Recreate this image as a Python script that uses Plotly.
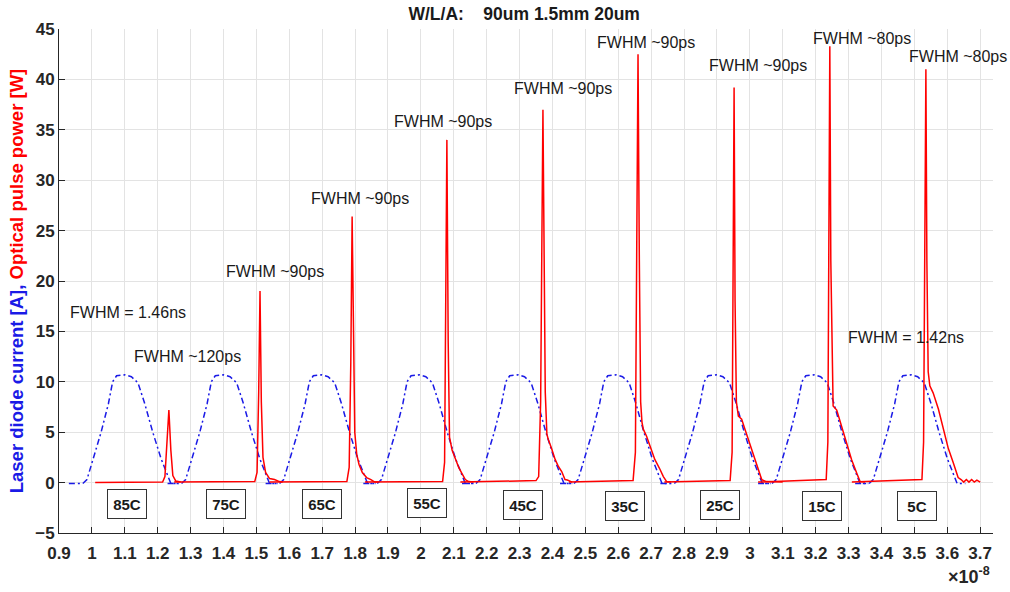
import plotly.graph_objects as go

# ---------------- data (x in units of 1e-8 s) ----------------
temps = ["85C", "75C", "65C", "55C", "45C", "35C", "25C", "15C", "5C"]

# laser diode current pulse: centres of each pulse and the common pulse profile
current_centres = [1.10, 1.40, 1.698, 1.995, 2.295, 2.593, 2.898, 3.195, 3.49]
current_offset = [-0.17, -0.128, -0.115, -0.097, -0.072, -0.05, -0.037, -0.025, 0.0,
                  0.02, 0.04, 0.06, 0.085, 0.11, 0.13, 0.14, 0.165]
current_value = [-0.1, -0.1, 0.3, 2.2, 5.0, 7.8, 10.0, 10.6, 10.7,
                 10.5, 9.9, 7.9, 5.0, 2.4, 0.6, -0.1, -0.1]

# optical pulse power, one trace per temperature
opt_85_x = [1.01, 1.215, 1.222, 1.228, 1.234, 1.240, 1.246, 1.255, 1.27]
opt_85_y = [0.0, 0.05, 0.6, 3.5, 7.2, 3.2, 0.7, 0.15, 0.05]
opt_75_x = [1.25, 1.495, 1.502, 1.507, 1.511, 1.515, 1.520, 1.528, 1.540, 1.555, 1.57, 1.58]
opt_75_y = [0.05, 0.1, 1.0, 9.0, 19.0, 8.0, 2.5, 1.0, 0.4, 0.3, 0.1, 0.05]
opt_65_x = [1.54, 1.775, 1.782, 1.787, 1.791, 1.795, 1.799, 1.805, 1.812, 1.822, 1.835, 1.848, 1.86, 1.87]
opt_65_y = [0.05, 0.1, 1.5, 12.0, 26.4, 12.0, 5.0, 2.8, 1.8, 1.0, 0.5, 0.3, 0.05, 0.05]
opt_55_x = [1.83, 2.066, 2.072, 2.076, 2.079, 2.083, 2.087, 2.095, 2.105, 2.115, 2.125, 2.135, 2.145, 2.16]
opt_55_y = [0.05, 0.1, 2.0, 16.0, 34.0, 14.0, 4.5, 3.2, 2.4, 1.5, 0.9, 0.3, 0.1, 0.05]
opt_45_x = [2.12, 2.35, 2.358, 2.364, 2.368, 2.371, 2.374, 2.378, 2.383, 2.387, 2.397, 2.408,
            2.418, 2.428, 2.438, 2.445, 2.46]
opt_45_y = [0.05, 0.2, 0.6, 8.0, 25.0, 37.0, 25.0, 9.0, 4.8, 4.3, 3.4, 2.3, 1.6, 1.1, 0.3, 0.25, 0.05]
opt_35_x = [2.45, 2.645, 2.652, 2.656, 2.66, 2.664, 2.668, 2.672, 2.676, 2.686, 2.696, 2.711,
            2.727, 2.737, 2.747, 2.76]
opt_35_y = [0.05, 0.2, 3.0, 20.0, 42.5, 22.0, 8.0, 6.0, 5.3, 4.6, 3.6, 2.3, 1.3, 0.6, 0.1, 0.05]
opt_25_x = [2.74, 2.940, 2.946, 2.949, 2.952, 2.955, 2.959, 2.965, 2.975, 2.985, 3.0, 3.015,
            3.026, 3.036, 3.05, 3.1]
opt_25_y = [0.05, 0.2, 3.0, 18.0, 39.2, 18.0, 8.0, 6.6, 6.3, 5.3, 3.8, 2.3, 1.3, 0.3, 0.1, 0.05]
opt_15_x = [3.025, 3.232, 3.237, 3.240, 3.243, 3.246, 3.250, 3.253, 3.264, 3.279, 3.294, 3.309,
            3.324, 3.335, 3.35]
opt_15_y = [0.05, 0.3, 4.0, 20.0, 43.3, 22.0, 10.0, 7.6, 7.2, 5.6, 3.9, 2.3, 1.0, 0.1, 0.05]
opt_5_x = [3.31, 3.523, 3.528, 3.532, 3.535, 3.538, 3.542, 3.547, 3.557, 3.573, 3.588, 3.603,
           3.618, 3.633, 3.642, 3.650, 3.658, 3.666, 3.674, 3.682, 3.69, 3.70]
opt_5_y = [0.05, 0.3, 4.0, 20.0, 41.0, 22.0, 11.0, 9.6, 8.9, 7.3, 5.3, 3.4, 2.0, 0.5, 0.3, 0.05,
           0.3, 0.05, 0.3, 0.05, 0.25, 0.05]

optical_x = [opt_85_x, opt_75_x, opt_65_x, opt_55_x, opt_45_x, opt_35_x, opt_25_x, opt_15_x, opt_5_x]
optical_y = [opt_85_y, opt_75_y, opt_65_y, opt_55_y, opt_45_y, opt_35_y, opt_25_y, opt_15_y, opt_5_y]

# temperature box labels
temp_label_x = [1.107, 1.407, 1.70, 2.02, 2.31, 2.62, 2.91, 3.22, 3.507]
temp_label_y = [-2.1, -2.1, -2.1, -2.0, -2.2, -2.35, -2.2, -2.35, -2.35]

# FWHM annotations
fwhm_text = ["FWHM = 1.46ns", "FWHM ~120ps", "FWHM ~90ps", "FWHM ~90ps", "FWHM ~90ps",
             "FWHM ~90ps", "FWHM ~90ps", "FWHM ~90ps", "FWHM ~80ps", "FWHM ~80ps",
             "FWHM = 1.42ns"]
fwhm_x = [1.109, 1.292, 1.556, 1.815, 2.067, 2.432, 2.684, 3.025, 3.341, 3.633, 3.474]
fwhm_y = [16.9, 12.5, 20.9, 28.2, 35.8, 39.1, 43.7, 41.4, 44.1, 42.3, 14.4]

x_ticks = [0.9 + 0.1 * i for i in range(29)]
x_tick_text = ["0.9", "1", "1.1", "1.2", "1.3", "1.4", "1.5", "1.6", "1.7", "1.8", "1.9", "2",
               "2.1", "2.2", "2.3", "2.4", "2.5", "2.6", "2.7", "2.8", "2.9", "3", "3.1", "3.2",
               "3.3", "3.4", "3.5", "3.6", "3.7"]
y_ticks = [-5, 0, 5, 10, 15, 20, 25, 30, 35, 40, 45]

# ---------------- figure ----------------
FONT = "Liberation Sans, Arial, Helvetica, sans-serif"
BLUE = "#1a1ae6"
RED = "#ff0000"

fig = go.Figure()

for c in current_centres:
    fig.add_trace(go.Scatter(
        x=[c + o for o in current_offset], y=current_value, mode="lines",
        line=dict(color=BLUE, width=1.5, dash="6px,3px,2px,3px"),
        showlegend=False, hoverinfo="skip"))

for xs, ys in zip(optical_x, optical_y):
    fig.add_trace(go.Scatter(
        x=xs, y=ys, mode="lines", line=dict(color=RED, width=1.5),
        showlegend=False, hoverinfo="skip"))

annotations = []
for t, x, y in zip(temps, temp_label_x, temp_label_y):
    annotations.append(dict(
        x=x, y=y, xref="x", yref="y", text=t, showarrow=False,
        font=dict(family=FONT, size=15, color="#1a1a1a", weight="bold"),
        bordercolor="#333333", borderwidth=1, borderpad=5, bgcolor="white",
        width=28, height=18))
for t, x, y in zip(fwhm_text, fwhm_x, fwhm_y):
    annotations.append(dict(
        x=x, y=y, xref="x", yref="y", text=t, showarrow=False,
        font=dict(family=FONT, size=16, color="#1a1a1a")))
annotations.append(dict(
    x=0.999, y=-0.085, xref="paper", yref="paper", xanchor="right", yanchor="middle",
    text="×10<sup>-8</sup>", showarrow=False,
    font=dict(family=FONT, size=18, color="#262626", weight="bold")))

fig.update_layout(
    width=1010, height=592,
    margin=dict(l=59, r=17, t=29, b=59, autoexpand=False),
    paper_bgcolor="white", plot_bgcolor="white",
    title=dict(text="W/L/A:    90um 1.5mm 20um", x=0.519, xanchor="center",
               y=0.976, yanchor="middle",
               font=dict(family=FONT, size=17.5, color="#1a1a1a", weight="bold")),
    annotations=annotations,
)
fig.update_xaxes(
    range=[0.9, 3.739], tickmode="array", tickvals=x_ticks, ticktext=x_tick_text,
    showgrid=True, gridcolor="#e3e3e3", gridwidth=1, zeroline=False,
    showline=True, linecolor="#262626", linewidth=1, mirror=False,
    ticks="inside", ticklen=6, tickcolor="#262626", ticklabelstandoff=5,
    tickfont=dict(family=FONT, size=17, color="#262626", weight="bold"),
    automargin=False)
fig.update_yaxes(
    range=[-5, 45], tickmode="array", tickvals=y_ticks,
    showgrid=True, gridcolor="#e3e3e3", gridwidth=1, zeroline=False,
    showline=True, linecolor="#262626", linewidth=1, mirror=False,
    ticks="inside", ticklen=6, tickcolor="#262626",
    tickfont=dict(family=FONT, size=17, color="#262626", weight="bold"),
    title=dict(text="<span style='color:#1a1ae6'>Laser diode current [A],</span> "
                    "<span style='color:#ff0000'>Optical pulse power [W]</span>",
               font=dict(family=FONT, size=18.5, weight="bold"), standoff=6),
    automargin=False)

fig.write_html("out.html")
